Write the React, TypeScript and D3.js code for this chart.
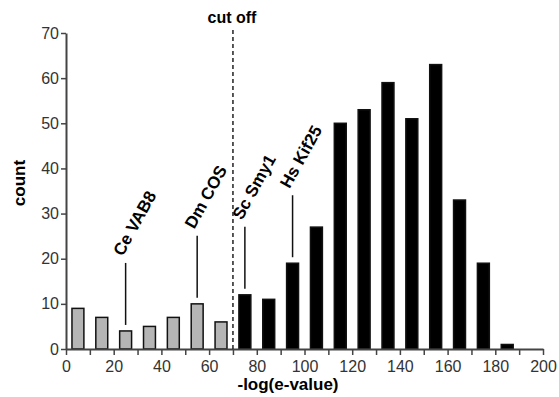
import React, {useEffect, useRef} from 'react';
import * as d3 from 'd3';

const binStarts = [0, 10, 20, 30, 40, 50, 60, 70, 80, 90, 100, 110, 120, 130, 140, 150, 160, 170, 180];
const counts = [9, 7, 4, 5, 7, 10, 6, 12, 11, 19, 27, 50, 53, 59, 51, 63, 33, 19, 1];
const cutoff = 70;
const xTicks = [0, 10, 20, 30, 40, 50, 60, 70, 80, 90, 100, 110, 120, 130, 140, 150, 160, 170, 180, 190, 200];
const xTickLabels = [0, 20, 40, 60, 80, 100, 120, 140, 160, 180, 200];
const yTicks = [0, 10, 20, 30, 40, 50, 60, 70];
const annotationNames = ['Ce VAB8', 'Dm COS', 'Sc Smy1', 'Hs Kif25'];
const annotationBins = [20, 50, 70, 90];

export default function App() {
    const svgRef = useRef<SVGSVGElement>(null);

    useEffect(() => {
        const width = 559, height = 397;
        const margin = {top: 33, right: 16, bottom: 48, left: 66};
        const font = 'Liberation Sans, Arial, sans-serif';

        const svg = d3.select(svgRef.current);
        svg.selectAll('*').remove();
        svg.attr('width', width).attr('height', height);

        const x = d3.scaleLinear().domain([0, 200]).range([margin.left, width - margin.right]);
        const y = d3.scaleLinear().domain([0, 70]).range([height - margin.bottom, margin.top]);

        const data = binStarts.map((b, i) => ({start: b, count: counts[i]}));

        // bars
        svg.append('g')
            .selectAll('rect')
            .data(data)
            .enter()
            .append('rect')
            .attr('x', d => x(d.start + 2.5))
            .attr('width', d => x(d.start + 7.5) - x(d.start + 2.5))
            .attr('y', d => y(d.count))
            .attr('height', d => y(0) - y(d.count))
            .attr('fill', d => d.start < cutoff ? '#b5b5b5' : '#000')
            .attr('stroke', '#111')
            .attr('stroke-width', 1.5);

        // x axis
        const xAxis = svg.append('g')
            .attr('transform', `translate(0,${y(0)})`)
            .call(d3.axisBottom(x).tickValues(xTicks).tickSize(6).tickSizeOuter(0)
                .tickFormat(d => xTickLabels.includes(d as number) ? String(d) : ''));
        xAxis.select('.domain').attr('stroke', '#444').attr('stroke-width', 2);
        xAxis.selectAll('.tick line').attr('stroke', '#444').attr('stroke-width', 1.5);
        xAxis.selectAll('.tick text').attr('font-family', font).attr('font-size', 16).attr('fill', '#333').attr('dy', '0.85em');

        // y axis
        const yAxis = svg.append('g')
            .attr('transform', `translate(${margin.left},0)`)
            .call(d3.axisLeft(y).tickValues(yTicks).tickSize(5).tickSizeOuter(0));
        yAxis.select('.domain').attr('stroke', '#444').attr('stroke-width', 2);
        yAxis.selectAll('.tick line').attr('stroke', '#444').attr('stroke-width', 1.5);
        yAxis.selectAll('.tick text').attr('font-family', font).attr('font-size', 16).attr('fill', '#333').attr('x', -7);

        // cut off line
        svg.append('line')
            .attr('x1', x(cutoff)).attr('x2', x(cutoff))
            .attr('y1', y(0)).attr('y2', 29)
            .attr('stroke', '#222')
            .attr('stroke-width', 1.5)
            .attr('stroke-dasharray', '4,3');
        svg.append('text')
            .attr('x', x(cutoff) - 1)
            .attr('y', 23)
            .attr('text-anchor', 'middle')
            .attr('font-family', font)
            .attr('font-size', 16)
            .attr('font-weight', 'bold')
            .text('cut off');

        // annotations
        annotationNames.forEach((name, i) => {
            const bin = annotationBins[i];
            const cx = x(bin + 5);
            const top = y(counts[binStarts.indexOf(bin)]);
            const y1 = top - 6;
            const y2 = y1 - 62;
            svg.append('line')
                .attr('x1', cx).attr('x2', cx)
                .attr('y1', y1).attr('y2', y2)
                .attr('stroke', '#111')
                .attr('stroke-width', 1.5);
            svg.append('text')
                .attr('transform', `translate(${cx - 3},${y2 - 6}) rotate(-61)`)
                .attr('font-family', font)
                .attr('font-size', 17)
                .attr('font-weight', 'bold')
                .text(name);
        });

        // axis titles
        svg.append('text')
            .attr('transform', `translate(25,183) rotate(-90)`)
            .attr('text-anchor', 'middle')
            .attr('font-family', font)
            .attr('font-size', 17)
            .attr('font-weight', 'bold')
            .text('count');
        svg.append('text')
            .attr('x', 288)
            .attr('y', 390)
            .attr('text-anchor', 'middle')
            .attr('font-family', font)
            .attr('font-size', 17)
            .attr('font-weight', 'bold')
            .text('-log(e-value)');
    }, []);

    return (
        <svg ref={svgRef} style={{position: 'absolute', left: 0, top: 0, background: '#fff'}}></svg>
    );
}
